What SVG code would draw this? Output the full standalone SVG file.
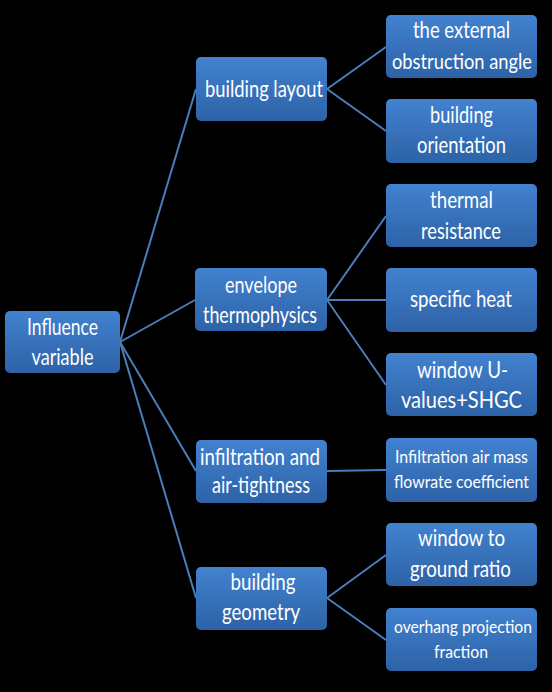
<svg xmlns="http://www.w3.org/2000/svg" width="552" height="692" viewBox="0 0 552 692">
<defs>
<linearGradient id="g" x1="0" y1="0" x2="0" y2="1">
<stop offset="0" stop-color="#4282D0"/>
<stop offset="1" stop-color="#2D62A6"/>
</linearGradient>
<style>
.n{fill:url(#g);}
.t{font-family:Lato,"Liberation Sans",sans-serif;font-size:24px;fill:#FFFFFF;text-anchor:middle;}
.s{font-size:17.5px;}
.m{font-size:21px;}
.c{stroke:#4A7EBB;stroke-width:2;fill:none;}
</style>
</defs>
<rect width="552" height="692" fill="#000000"/>
<g id="connectors">
<path class="c" d="M120 342 L196 89"/>
<path class="c" d="M120 342 L195 300"/>
<path class="c" d="M120 342 L196 471"/>
<path class="c" d="M120 342 L196 598"/>
<path class="c" d="M327 89 L386 47"/>
<path class="c" d="M327 89 L386 131"/>
<path class="c" d="M327 300 L386 216"/>
<path class="c" d="M327 300 L386 300"/>
<path class="c" d="M327 300 L386 385"/>
<path class="c" d="M327 471 L386 470"/>
<path class="c" d="M327 598 L386 555"/>
<path class="c" d="M327 598 L386 640"/>
</g>
<g id="root">
<rect class="n" x="5" y="311" width="115" height="62" rx="5"/>
<text class="t" x="62.5" y="335" textLength="71" lengthAdjust="spacingAndGlyphs">Influence</text>
<text class="t" x="62.5" y="365" textLength="62" lengthAdjust="spacingAndGlyphs">variable</text>
</g>
<g id="building-layout">
<rect class="n" x="196" y="57" width="131" height="64" rx="5"/>
<text class="t" x="264" y="97" textLength="118" lengthAdjust="spacingAndGlyphs">building layout</text>
</g>
<g id="envelope">
<rect class="n" x="195" y="268" width="132" height="63" rx="5"/>
<text class="t" x="261" y="293" textLength="72" lengthAdjust="spacingAndGlyphs">envelope</text>
<text class="t" x="260" y="323" textLength="114" lengthAdjust="spacingAndGlyphs">thermophysics</text>
</g>
<g id="infiltration">
<rect class="n" x="196" y="440" width="131" height="63" rx="5"/>
<text class="t" x="260" y="465" textLength="120" lengthAdjust="spacingAndGlyphs">infiltration and</text>
<text class="t" x="261" y="493" textLength="98" lengthAdjust="spacingAndGlyphs">air-tightness</text>
</g>
<g id="geometry">
<rect class="n" x="196" y="567" width="131" height="63" rx="5"/>
<text class="t" x="263" y="590" textLength="65" lengthAdjust="spacingAndGlyphs">building</text>
<text class="t" x="261" y="620" textLength="78" lengthAdjust="spacingAndGlyphs">geometry</text>
</g>
<g id="obstruction">
<rect class="n" x="386" y="15" width="151" height="63" rx="5"/>
<text class="t" x="461.5" y="38" textLength="97" lengthAdjust="spacingAndGlyphs">the external</text>
<text class="t m" x="462" y="69" textLength="140" lengthAdjust="spacingAndGlyphs">obstruction angle</text>
</g>
<g id="orientation">
<rect class="n" x="386" y="99" width="151" height="64" rx="5"/>
<text class="t" x="461.5" y="123" textLength="63" lengthAdjust="spacingAndGlyphs">building</text>
<text class="t" x="461.5" y="153" textLength="89" lengthAdjust="spacingAndGlyphs">orientation</text>
</g>
<g id="thermal">
<rect class="n" x="386" y="184" width="151" height="63" rx="5"/>
<text class="t" x="461.5" y="208" textLength="63" lengthAdjust="spacingAndGlyphs">thermal</text>
<text class="t" x="461" y="239" textLength="80" lengthAdjust="spacingAndGlyphs">resistance</text>
</g>
<g id="specific-heat">
<rect class="n" x="386" y="268" width="151" height="64" rx="5"/>
<text class="t" x="461" y="307" textLength="102" lengthAdjust="spacingAndGlyphs">specific heat</text>
</g>
<g id="window-u">
<rect class="n" x="386" y="353" width="151" height="63" rx="5"/>
<text class="t" x="462.5" y="378" textLength="91" lengthAdjust="spacingAndGlyphs">window U-</text>
<text class="t" x="461.5" y="408" textLength="121" lengthAdjust="spacingAndGlyphs">values+SHGC</text>
</g>
<g id="infiltration-coef">
<rect class="n" x="386" y="438" width="151" height="64" rx="5"/>
<text class="t s" x="461.5" y="463" textLength="133" lengthAdjust="spacingAndGlyphs">Infiltration air mass</text>
<text class="t s" x="461.5" y="488" textLength="135" lengthAdjust="spacingAndGlyphs">flowrate coefficient</text>
</g>
<g id="window-ground">
<rect class="n" x="386" y="523" width="151" height="63" rx="5"/>
<text class="t" x="461.5" y="546" textLength="87" lengthAdjust="spacingAndGlyphs">window to</text>
<text class="t" x="460.5" y="577" textLength="101" lengthAdjust="spacingAndGlyphs">ground ratio</text>
</g>
<g id="overhang">
<rect class="n" x="386" y="608" width="151" height="63" rx="5"/>
<text class="t s" x="463" y="633" textLength="138" lengthAdjust="spacingAndGlyphs">overhang projection</text>
<text class="t s" x="461" y="658" textLength="54" lengthAdjust="spacingAndGlyphs">fraction</text>
</g>
</svg>
